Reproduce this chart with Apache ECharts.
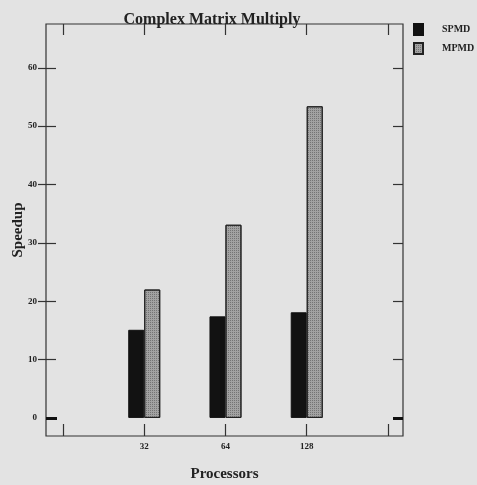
<!DOCTYPE html>
<html>
<head>
<meta charset="utf-8">
<script src="https://cdn.jsdelivr.net/npm/echarts@6/dist/echarts.min.js"></script>
<style>html,body{margin:0;padding:0;background:#e3e3e3;}#c{width:477px;height:485px;}</style>
</head>
<body>
<div id="c"></div>
<script>
const categories = ['32', '64', '128'];
const categoryPositions = [1, 2, 3];
const spmd = [15.1, 17.4, 18.1];
const mpmd = [22.0, 33.1, 53.4];
const yTicks = [10, 20, 30, 40, 50, 60];
const yLabels = [0, 10, 20, 30, 40, 50, 60];
const xTicks = [0, 1, 2, 3, 4];

const serif = '"Liberation Serif", "Times New Roman", serif';
const ink = '#222';

const chart = echarts.init(document.getElementById('c'), null, {renderer: 'canvas'});

const baseX = {
  type: 'value', min: -0.209, max: 4.185,
  axisLine: {show: false, onZero: false}, splitLine: {show: false}
};
const baseY = {
  type: 'value', min: -3.1, max: 67.5,
  axisLine: {show: false, onZero: false}, splitLine: {show: false}
};

chart.setOption({
  backgroundColor: '#e3e3e3',
  animation: false,
  title: {
    text: 'Complex Matrix Multiply',
    left: 207, textAlign: 'center', top: 7,
    textStyle: {fontFamily: serif, fontWeight: 'bold', fontSize: 16, color: ink}
  },
  legend: {
    data: ['SPMD', 'MPMD'],
    orient: 'vertical', left: 408, top: 18,
    itemWidth: 9, itemHeight: 11, itemGap: 6,
    icon: 'rect',
    textStyle: {fontFamily: serif, fontWeight: 'bold', fontSize: 10, color: ink, padding: [0, 0, 0, 14]}
  },
  grid: {
    left: 46, right: 74, top: 24, bottom: 49,
    outerBoundsMode: 'none', containLabel: false,
    show: true, borderColor: '#333', borderWidth: 1.2, backgroundColor: 'transparent'
  },
  xAxis: [
    Object.assign({}, baseX, {
      position: 'bottom',
      name: 'Processors', nameLocation: 'middle', nameGap: 31, nameMoveOverlap: false,
      nameTextStyle: {fontFamily: serif, fontWeight: 'bold', fontSize: 15, color: ink},
      axisTick: {show: true, inside: true, length: 12, customValues: xTicks, lineStyle: {color: '#333', width: 1.2}},
      axisLabel: {show: true, customValues: categoryPositions, margin: 6,
        fontFamily: serif, fontWeight: 'bold', fontSize: 9, color: ink,
        formatter: v => categories[categoryPositions.indexOf(Math.round(v))] || ''}
    }),
    Object.assign({}, baseX, {
      position: 'top',
      axisTick: {show: true, inside: true, length: 11, customValues: xTicks, lineStyle: {color: '#333', width: 1.2}},
      axisLabel: {show: false}
    })
  ],
  yAxis: [
    Object.assign({}, baseY, {
      position: 'left',
      name: 'Speedup', nameLocation: 'middle', nameGap: 20, nameRotate: 90, nameMoveOverlap: false,
      nameTextStyle: {fontFamily: serif, fontWeight: 'bold', fontSize: 15, color: ink},
      axisTick: {show: true, inside: false, length: 8, customValues: yTicks, lineStyle: {color: '#333', width: 1.2}},
      axisLabel: {show: true, customValues: yLabels, margin: 9,
        fontFamily: serif, fontWeight: 'bold', fontSize: 9, color: ink}
    }),
    Object.assign({}, baseY, {
      position: 'left', offset: 0,
      axisTick: {show: true, inside: true, length: 10, customValues: yTicks, lineStyle: {color: '#333', width: 1.2}},
      axisLabel: {show: false}
    }),
    Object.assign({}, baseY, {
      position: 'left', offset: 0,
      axisTick: {show: true, inside: true, length: 11, customValues: [0], lineStyle: {color: '#111', width: 3}},
      axisLabel: {show: false}
    }),
    Object.assign({}, baseY, {
      position: 'right', offset: 0,
      axisTick: {show: true, inside: true, length: 10, customValues: yTicks, lineStyle: {color: '#333', width: 1.2}},
      axisLabel: {show: false}
    }),
    Object.assign({}, baseY, {
      position: 'right', offset: 0,
      axisTick: {show: true, inside: true, length: 10, customValues: [0], lineStyle: {color: '#111', width: 3}},
      axisLabel: {show: false}
    })
  ],
  series: [
    {
      name: 'SPMD', type: 'bar', xAxisIndex: 0, yAxisIndex: 0,
      barWidth: 16, barGap: '0%',
      data: categoryPositions.map((p, i) => [p, spmd[i]]),
      itemStyle: {color: '#121212', borderColor: '#111', borderWidth: 1}
    },
    {
      name: 'MPMD', type: 'bar', xAxisIndex: 0, yAxisIndex: 0,
      barWidth: 16, barGap: '0%',
      data: categoryPositions.map((p, i) => [p, mpmd[i]]),
      itemStyle: {
        color: '#a2a2a2', borderColor: '#222', borderWidth: 1,
        decal: {symbol: 'rect', symbolSize: 1, dashArrayX: [1, 1], dashArrayY: [1, 1], color: 'rgba(60,60,60,0.45)', rotation: 0}
      }
    }
  ]
});
</script>
</body>
</html>
